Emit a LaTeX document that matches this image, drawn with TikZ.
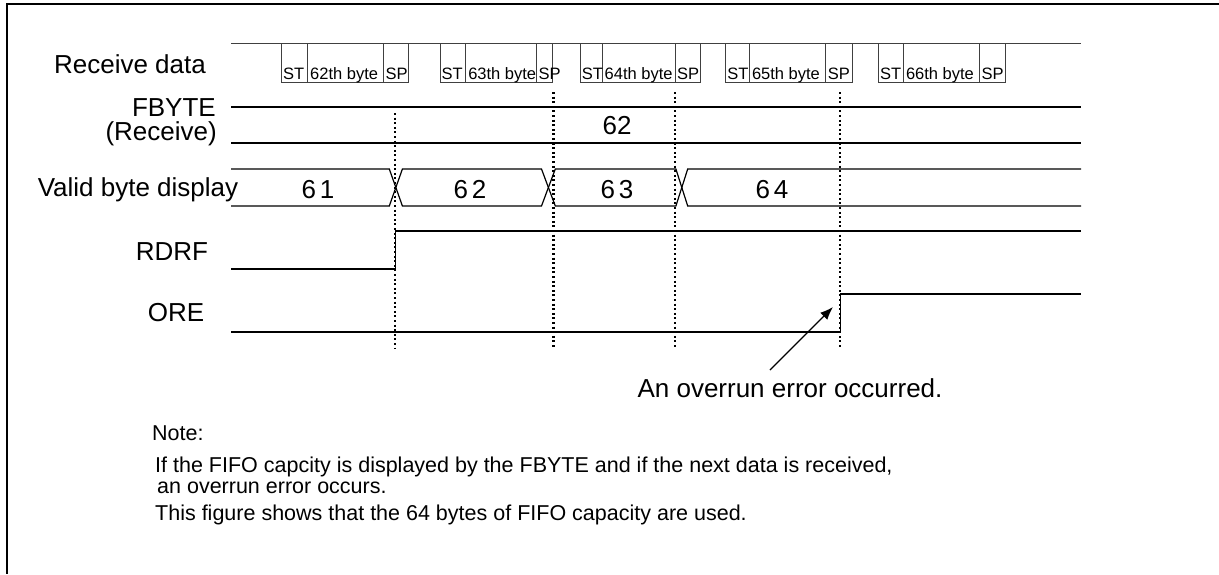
\documentclass[tikz,border=0pt]{standalone}
\usepackage{fontspec}
\setmainfont{Liberation Sans}
\usetikzlibrary{arrows.meta}

\begin{document}
\begin{tikzpicture}[x=1pt,y=-1pt,
  lbl/.style={inner sep=0pt,font=\fontsize{26}{28}\selectfont},
  cell/.style={inner sep=0pt,anchor=base west,font=\fontsize{16.5}{18}\selectfont},
  note/.style={inner sep=0pt,anchor=base west,font=\fontsize{21.5}{23}\selectfont},
  sig/.style={line width=1.2pt},
  box/.style={line width=1pt,black!75},
  marker/.style={line width=2.2pt,dash pattern=on 2pt off 2.6pt},
  frame/.style={line width=2.2pt}]
  \useasboundingbox (0,0) rectangle (1219,574);
  \draw[frame] (6,4) -- (1219,4);
  \draw[frame] (7,4) -- (7,574);

  \node[lbl] (rx)   at (130,64)  {Receive data};
  \node[lbl,anchor=east] (fb) at (216,108) {FBYTE};
  \node[lbl,anchor=east] (fbr) at (217,134) {(Receive)};
  \node[lbl] (vbd)  at (138,190) {Valid byte display};
  \node[lbl] (rdrf) at (172,252) {RDRF};
  \node[lbl] (ore)  at (176,313) {ORE};

  % receive data frames
  \draw[box] (231,43) -- (1081,43);
  \foreach \a/\b/\c/\d/\n in {281.4/307.5/383.4/408.3/62, 440/465.6/536.4/552.2/63,
      580.2/602/675/700/64, 725.7/749.3/825.7/852.7/65, 878.3/903.3/979.3/1005/66} {
    \draw[box] (\a,43) -- (\a,82) -- (\d,82) -- (\d,43);
    \draw[box] (\b,43) -- (\b,82);
    \draw[box] (\c,43) -- (\c,82);
    \node[cell] (st\n) at (\a+1.5,79) {ST};
    \node[cell] (by\n) at (\b+2.5,79) {\n th byte};
    \node[cell] (sp\n) at (\c+2,79) {SP};
  }

  % FBYTE
  \draw[sig] (231,107) -- (1081,107);
  \draw[sig] (231,143) -- (1081,143);
  \node[lbl] (fb62) at (617,126) {62};

  % valid byte display
  \draw[sig] (231,169) -- (389.3,169) -- (402.4,206) -- (541.5,206) -- (555.3,169)
    -- (675.9,169) -- (687.7,206) -- (1081,206);
  \draw[sig] (231,206) -- (389.3,206) -- (402.4,169) -- (541.5,169) -- (555.3,206)
    -- (675.9,206) -- (687.7,169) -- (1081,169);
  \node[lbl] (v61) at (318,190) {6\hspace{4pt}1};
  \node[lbl] (v62) at (470,190) {6\hspace{4pt}2};
  \node[lbl] (v63) at (617,190) {6\hspace{4pt}3};
  \node[lbl] (v64) at (772,190) {6\hspace{4pt}4};

  % flags
  \draw[sig] (231,269) -- (395.3,269) -- (395.3,231) -- (1081,231);
  \draw[sig] (231,332) -- (840.3,332) -- (840.3,294) -- (1081,294);

  % timing marks
  \draw[marker] (395.3,113) -- (395.3,348);
  \foreach \x in {553.4,675.1,840.3}
    \draw[marker] (\x,92) -- (\x,348);

  \node[lbl] (err) at (790,388) {An overrun error occurred.};
  \coordinate (tail) at (770,370);
  \coordinate (tip) at (833,307);
  \draw[-{Latex[length=13pt,width=10pt]},line width=1.3pt] (tail) -- (tip);

  \node[note] (n0) at (152,440) {Note:};
  \node[note] (n1) at (155,472) {If the FIFO capcity is displayed by the FBYTE and if the next data is received,};
  \node[note] (n2) at (157,493) {an overrun error occurs.};
  \node[note] (n3) at (155,520) {This figure shows that the 64 bytes of FIFO capacity are used.};
\end{tikzpicture}
\end{document}
